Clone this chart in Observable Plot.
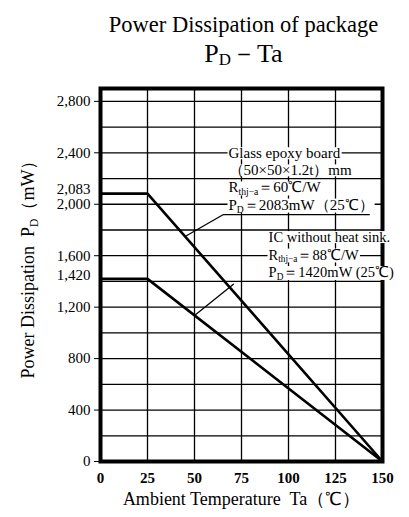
<!DOCTYPE html>
<html>
<head>
<meta charset="utf-8">
<script src="https://cdn.jsdelivr.net/npm/d3@7"></script>
<script src="https://cdn.jsdelivr.net/npm/@observablehq/plot@0.6"></script>
<style>
  html, body { margin: 0; padding: 0; background: #fff; }
  body { width: 409px; height: 517px; overflow: hidden; font-family: "Liberation Serif", serif; color: #000; }
  #title { position: relative; height: 80px; width: 409px; }
  #title div { position: absolute; left: 78px; right: 0; text-align: center; white-space: nowrap; }
  #t1 { top: 13px; font-size: 22.5px; line-height: 23px; }
  #t2 { top: 41px; font-size: 26px; line-height: 26px; }
  #title sub { font-size: 65%; vertical-align: -0.2em; line-height: 0; }
  #chart svg { display: block; }
</style>
</head>
<body>
<div id="title">
  <div id="t1">Power Dissipation of package</div>
  <div id="t2">P<sub>D</sub>－Ta</div>
</div>
<div id="chart"></div>
<script>
// ---- data ----
const ta = [0, 25, 150];
const glassPd = [2083, 2083, 0];
const icPd = [1420, 1420, 0];

const xTicks = [0, 25, 50, 75, 100, 125, 150];
const yGrid = [0, 200, 400, 600, 800, 1000, 1200, 1400, 1600, 1800, 2000, 2200, 2400, 2600, 2800];
const yLabels = [0, 400, 800, 1200, 1600, 2000, 2400, 2800];
const yLabelsExtra = [1420, 2083];

const glassNote = ["Glass epoxy board", "（50×50×1.2t）mm", "R_{thj−a}＝60℃/W", "P_{D}＝2083mW（25℃）"];
const icNote = ["IC without heat sink.", "R_{thj−a}＝88℃/W", "P_{D}＝1420mW (25℃)"];

const xLabel = "Ambient Temperature  Ta（℃）";
const yLabel = "Power Dissipation  P_{D}（mW）";

// ---- derived tables ----
const glass = ta.map((t, i) => ({ta: t, pd: glassPd[i]}));
const ic = ta.map((t, i) => ({ta: t, pd: icPd[i]}));
const onLine = (pd, t) => pd[1] * (ta[2] - t) / (ta[2] - ta[1]);

// annotation geometry (data units)
const gx = 68.1, gy0 = 2395, gStep = 133;
const ix = 89.4, iy0 = 1742, iStep = 136;
const glassLeader = [
  {ta: 45, pd: onLine(glassPd, 45)},
  {ta: 65.4, pd: 1920},
  {ta: 143, pd: 1920}
];
const icLeader = [
  {ta: 50, pd: onLine(icPd, 50)},
  {ta: 70.7, pd: 1378}
];
const fmt = d3.format(",");

const plot = Plot.plot({
  width: 409,
  height: 437,
  marginTop: 8,
  marginBottom: 56,
  marginLeft: 100,
  marginRight: 27,
  style: {fontFamily: "Liberation Serif, serif", fontSize: "15px", color: "#000", background: "#fff"},
  x: {domain: [0, 150]},
  y: {domain: [0, 2900]},
  marks: [
    Plot.ruleX(xTicks, {stroke: "#000", strokeWidth: 1.3}),
    Plot.ruleY(yGrid, {stroke: "#000", strokeWidth: 1.3}),
    Plot.line(glass, {x: "ta", y: "pd", stroke: "#000", strokeWidth: 2.6}),
    Plot.line(ic, {x: "ta", y: "pd", stroke: "#000", strokeWidth: 2.6}),
    Plot.frame({stroke: "#000", strokeWidth: 4}),
    Plot.axisX(xTicks, {tickSize: 0, tickPadding: 11, fontSize: 15, fontWeight: "bold", label: null}),
    Plot.axisY(yLabels, {tickSize: 6, tickPadding: 4, tickFormat: fmt, fontSize: 15, label: null}),
    Plot.axisY(yLabelsExtra, {tickSize: 0, tickPadding: 10, tickFormat: fmt, fontSize: 15, dy: -4, label: null}),
    Plot.line(glassLeader, {x: "ta", y: "pd", stroke: "#000", strokeWidth: 1.3}),
    Plot.line(icLeader, {x: "ta", y: "pd", stroke: "#000", strokeWidth: 1.3}),
    Plot.text(glassNote, {x: () => gx, y: (d, i) => gy0 - i * gStep, text: d => d, textAnchor: "start",
      fontSize: 15, fill: "#000"}),
    Plot.text(icNote, {x: () => ix, y: (d, i) => iy0 - i * iStep, text: d => d, textAnchor: "start",
      fontSize: 14.5, fill: "#000"}),
    Plot.text([xLabel], {frameAnchor: "bottom", textAnchor: "middle", lineAnchor: "middle", dy: 38, fontSize: 18, fill: "#000"}),
    Plot.text([yLabel], {frameAnchor: "left", textAnchor: "middle", lineAnchor: "middle", dx: -72, dy: -10, rotate: -90, fontSize: 18, fill: "#000"})
  ]
});

document.getElementById("chart").appendChild(plot);

const NS = "http://www.w3.org/2000/svg";
const noteSet = new Set([...glassNote, ...icNote]);
const noteEls = [];
plot.querySelectorAll("text").forEach(t => { if (noteSet.has(t.textContent)) noteEls.push(t); });

// subscripts: "_{...}" -> smaller, lowered tspan
plot.querySelectorAll("text").forEach(t => {
  const targets = t.querySelector("tspan") ? [...t.querySelectorAll("tspan")] : [t];
  targets.forEach(el => {
    const s = el.textContent;
    if (!s.includes("_{")) return;
    const fs = parseFloat(getComputedStyle(el).fontSize) || 14;
    const shift = Math.round(fs * 0.2 * 10) / 10;
    el.textContent = "";
    const parts = s.split(/_\{([^}]*)\}/);
    let down = false;
    parts.forEach((p, i) => {
      const isSub = i % 2 === 1;
      if (!p) return;
      const ts = document.createElementNS(NS, "tspan");
      ts.textContent = p;
      if (isSub) {
        ts.setAttribute("font-size", (fs * 0.64).toFixed(1));
        if (!down) { ts.setAttribute("dy", shift); down = true; }
      } else if (down) {
        ts.setAttribute("dy", -shift); down = false;
      }
      el.appendChild(ts);
    });
  });
});

// white boxes behind annotation lines
noteEls.forEach(t => {
  const b = t.getBBox();
  const r = document.createElementNS(NS, "rect");
  r.setAttribute("x", b.x - 1);
  r.setAttribute("y", b.y + 2);
  r.setAttribute("width", b.width + 2);
  r.setAttribute("height", Math.max(0, b.height - 4));
  r.setAttribute("fill", "#fff");
  const tr = t.getAttribute("transform");
  if (tr) r.setAttribute("transform", tr);
  t.parentNode.insertBefore(r, t);
});
</script>
</body>
</html>
